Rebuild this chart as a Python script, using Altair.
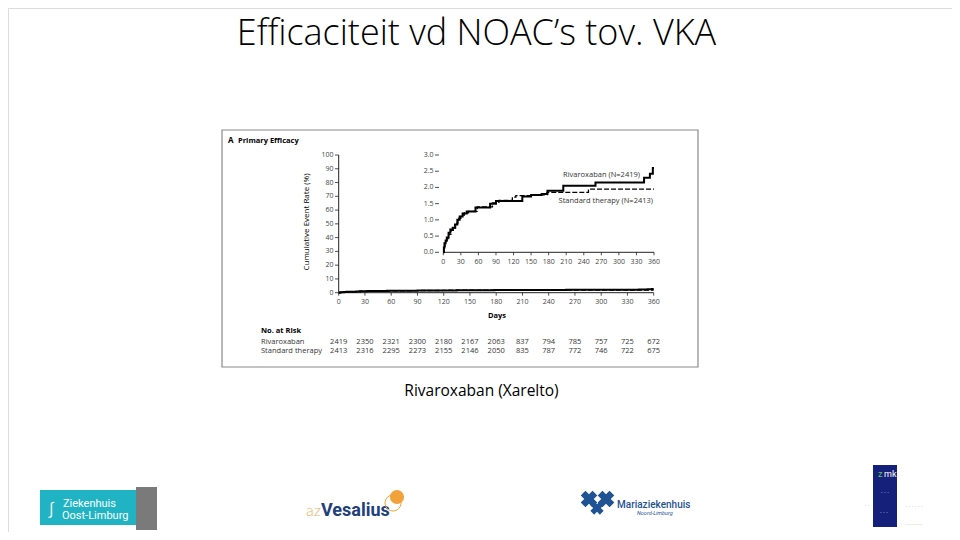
import altair as alt
import pandas as pd

# ---------------- data ----------------
riva_days = [0, 1, 2, 4, 6, 9, 12, 16, 20, 24, 28, 33, 40, 55, 80, 90, 135, 150, 168, 178, 205, 260, 343, 353, 358, 360]
riva_rate = [0, 0.15, 0.28, 0.36, 0.46, 0.6, 0.7, 0.76, 0.86, 1.0, 1.1, 1.2, 1.26, 1.38, 1.5, 1.58, 1.72, 1.77, 1.8, 1.9, 2.05, 2.15, 2.3, 2.42, 2.6, 2.6]
std_days = [0, 1, 3, 6, 9, 13, 17, 21, 25, 30, 36, 43, 58, 84, 95, 118, 124, 150, 177, 248, 360]
std_rate = [0, 0.12, 0.3, 0.42, 0.55, 0.68, 0.75, 0.9, 1.05, 1.15, 1.22, 1.26, 1.4, 1.52, 1.6, 1.7, 1.75, 1.77, 1.85, 1.95, 1.95]

risk_days = [0, 30, 60, 90, 120, 150, 180, 210, 240, 270, 300, 330, 360]
riva_risk = [2419, 2350, 2321, 2300, 2180, 2167, 2063, 837, 794, 785, 757, 725, 672]
std_risk = [2413, 2316, 2295, 2273, 2155, 2146, 2050, 835, 787, 772, 746, 722, 675]

x_ticks = [0, 30, 60, 90, 120, 150, 180, 210, 240, 270, 300, 330, 360]
main_y_ticks = [0, 10, 20, 30, 40, 50, 60, 70, 80, 90, 100]
inset_y_ticks = [0.0, 0.5, 1.0, 1.5, 2.0, 2.5, 3.0]
inset_y_labels = ["0.0", "0.5", "1.0", "1.5", "2.0", "2.5", "3.0"]

title_text = "Efficaciteit vd NOAC’s tov. VKA"
caption_text = "Rivaroxaban (Xarelto)"

riva_df = pd.DataFrame({"day": riva_days, "rate": riva_rate})
std_df = pd.DataFrame({"day": std_days, "rate": std_rate})
risk_df = pd.DataFrame({"day": risk_days, "riva": riva_risk, "std": std_risk})
xt_df = pd.DataFrame({"v": x_ticks, "lab": [str(t) for t in x_ticks]})
myt_df = pd.DataFrame({"v": main_y_ticks, "lab": [str(t) for t in main_y_ticks]})
iyt_df = pd.DataFrame({"v": inset_y_ticks, "lab": inset_y_labels})
xdom_df = pd.DataFrame({"a": [x_ticks[0]], "b": [x_ticks[-1]]})
mydom_df = pd.DataFrame({"a": [main_y_ticks[0]], "b": [main_y_ticks[-1]]})

W, H = 944, 524
def P(v):
    return v - 8

FONT = "Open Sans"
AXC = "#222"
LABC = "#444"

# scales
xs_main = alt.Scale(domain=[0, 360], range=[P(338.7), P(653.7)], nice=False, zero=False)
ys_main = alt.Scale(domain=[0, 100], range=[P(292.7), P(155)], nice=False, zero=False)
xs_in = alt.Scale(domain=[0, 360], range=[P(443.3), P(654)], nice=False, zero=False)
ys_in = alt.Scale(domain=[0, 3], range=[P(252.3), P(155)], nice=False, zero=False)

blank = pd.DataFrame({"a": [0]})

def txt(text, x, y, size, align="left", weight="normal", color="black", font=FONT,
        angle=0, baseline="middle", style="normal"):
    kw = dict(text=text, align=align, baseline=baseline, fontSize=size, fontWeight=weight,
              color=color, font=font, fontStyle=style)
    if angle:
        kw["angle"] = angle
    return alt.Chart(blank).mark_text(**kw).encode(x=alt.value(P(x)), y=alt.value(P(y)))

# ---- axes built through the scales ----
def x_axis(xs, y0, label_y):
    dom = alt.Chart(xdom_df).mark_rule(color=AXC, strokeWidth=1).encode(
        x=alt.X("a:Q", scale=xs, axis=None), x2="b:Q", y=alt.value(P(y0)))
    ticks = alt.Chart(xt_df).mark_rule(color=AXC, strokeWidth=0.8).encode(
        x=alt.X("v:Q", scale=xs, axis=None), y=alt.value(P(y0)), y2=alt.value(P(y0 + 3)))
    labs = alt.Chart(xt_df).mark_text(fontSize=7, color=LABC, font=FONT, baseline="middle").encode(
        x=alt.X("v:Q", scale=xs, axis=None), y=alt.value(P(label_y)), text="lab:N")
    return [dom, ticks, labs]

def y_axis(df, ys, x0, tick_from, tick_to, label_x, domain=True):
    layers = []
    if domain:
        layers.append(alt.Chart(mydom_df).mark_rule(color=AXC, strokeWidth=1).encode(
            y=alt.Y("a:Q", scale=ys, axis=None), y2="b:Q", x=alt.value(P(x0))))
    layers.append(alt.Chart(df).mark_rule(color=AXC, strokeWidth=0.8).encode(
        y=alt.Y("v:Q", scale=ys, axis=None), x=alt.value(P(tick_from)), x2=alt.value(P(tick_to))))
    layers.append(alt.Chart(df).mark_text(fontSize=7, color=LABC, font=FONT, align="right",
                                          baseline="middle").encode(
        y=alt.Y("v:Q", scale=ys, axis=None), x=alt.value(P(label_x)), text="lab:N"))
    return layers

axes = (x_axis(xs_main, 292.7, 301.5)
        + y_axis(myt_df, ys_main, 338.7, 335.0, 338.7, 333.5)
        + x_axis(xs_in, 252.3, 261.5)
        + y_axis(iyt_df, ys_in, 443.3, 435.0, 439.0, 433.5, domain=False))

# figure box
box = alt.Chart(blank).mark_rect(fill="white", stroke="#8a8a8a", strokeWidth=1.2).encode(
    x=alt.value(P(222)), x2=alt.value(P(698)), y=alt.value(P(130)), y2=alt.value(P(367)))

def curve(df, xs, ys, width, dash=None):
    kw = dict(interpolate="step-after", color="black", strokeWidth=width)
    if dash:
        kw["strokeDash"] = dash
    return alt.Chart(df).mark_line(**kw).encode(
        x=alt.X("day:Q", scale=xs, axis=None), y=alt.Y("rate:Q", scale=ys, axis=None))

curves = [
    curve(std_df, xs_main, ys_main, 1.4, [5, 2]),
    curve(riva_df, xs_main, ys_main, 2.0),
    curve(std_df, xs_in, ys_in, 1.3, [5, 2]),
    curve(riva_df, xs_in, ys_in, 2.0),
]

# number at risk
risk_riva = alt.Chart(risk_df).mark_text(fontSize=7.5, color="#333", font=FONT).encode(
    x=alt.X("day:Q", scale=xs_main, axis=None), y=alt.value(P(342)), text="riva:Q")
risk_std = alt.Chart(risk_df).mark_text(fontSize=7.5, color="#333", font=FONT).encode(
    x=alt.X("day:Q", scale=xs_main, axis=None), y=alt.value(P(351)), text="std:Q")

texts = [
    txt(title_text, 476.5, 45, 36, align="center", weight=300, font="Open Sans", baseline="alphabetic"),
    txt("A", 228, 141, 8, weight="bold"),
    txt("Primary Efficacy", 238, 141, 7.5, weight="bold"),
    txt("Cumulative Event Rate (%)", 307, 222, 8, align="center", angle=270, weight=500),
    txt("Days", 497, 316, 7.5, align="center", weight="bold"),
    txt("No. at Risk", 261, 331, 7.5, weight="bold"),
    txt("Rivaroxaban", 261, 342, 7.5, color="#333"),
    txt("Standard therapy", 261, 351, 7.5, color="#333"),
    txt("Rivaroxaban (N=2419)", 640, 175, 7.5, align="right", color="#333"),
    txt("Standard therapy (N=2413)", 653, 201, 7.5, align="right", color="#333"),
    txt(caption_text, 481.5, 391, 15.5, align="center", font="Open Sans"),
]

# logos (approximations)
def rect(x1, x2, y1, y2, color):
    return alt.Chart(blank).mark_rect(fill=color).encode(
        x=alt.value(P(x1)), x2=alt.value(P(x2)), y=alt.value(P(y1)), y2=alt.value(P(y2)))

def pt(x, y, size, color, shape="circle", angle=0, filled=True, sw=1):
    kw = dict(shape=shape, size=size, color=color, filled=filled, opacity=1, strokeWidth=sw)
    if angle:
        kw["angle"] = angle
    return alt.Chart(blank).mark_point(**kw).encode(x=alt.value(P(x)), y=alt.value(P(y)))

logos = [
    rect(40, 137, 490, 525, "#1fb3c4"),
    rect(136, 157, 487, 530, "#7a7a7a"),
    txt("Ziekenhuis", 63, 504, 11, color="white", font="Roboto"),
    txt("Oost-Limburg", 62, 516, 11, color="white", font="Roboto"),
    txt("∫", 51, 509, 16, align="center", color="white"),
    txt("az", 306, 511, 16, color="#e9b36a", font="Lato", weight=300),
    txt("Vesalius", 321, 511, 18, color="#213f7d", font="Roboto", weight="bold"),
    pt(397, 497, 200, "#f2a23a"),
    pt(393, 503, 260, "#f2a23a", filled=False, sw=1),
    pt(589, 499, 280, "#1f5393", shape="cross", angle=45),
    pt(606, 499, 280, "#1f5393", shape="cross", angle=45),
    pt(597, 508, 180, "#1f5393", shape="cross", angle=45),
    txt("Mariaziekenhuis", 617, 505, 10, color="#1f5393", font="Roboto", weight=500),
    txt("Noord-Limburg", 637, 513, 5.5, color="#1f5393", font="Roboto", style="italic"),
    rect(873, 897, 465, 527, "#15207a"),
    txt("z", 878, 474, 9, color="#6cc24a", font="Roboto"),
    txt("mk", 884, 474, 9, color="white", font="Roboto"),
    txt("·  ·  ·", 885, 492, 6, align="center", color="white"),
    txt("·   ·  ·", 884, 512, 6, align="center", color="white"),
    txt("·  ·", 867, 505, 6, align="center", color="#999"),
    txt("·  ·  ·  ·   ·  ·", 914, 506, 6, align="center", color="#999"),
    txt("................", 914, 524, 4, align="center", color="#7cb342"),
]

chart = alt.layer(
    box, *texts[1:], *axes, *curves, risk_riva, risk_std, texts[0], *logos
).resolve_scale(x="independent", y="independent").properties(
    width=W, height=H, padding=0, autosize=alt.AutoSizeParams(type="none")
).configure_view(strokeWidth=0, stroke="transparent").configure(background="white")

chart.save("out.html", embed_options={"renderer": "svg", "actions": False})
